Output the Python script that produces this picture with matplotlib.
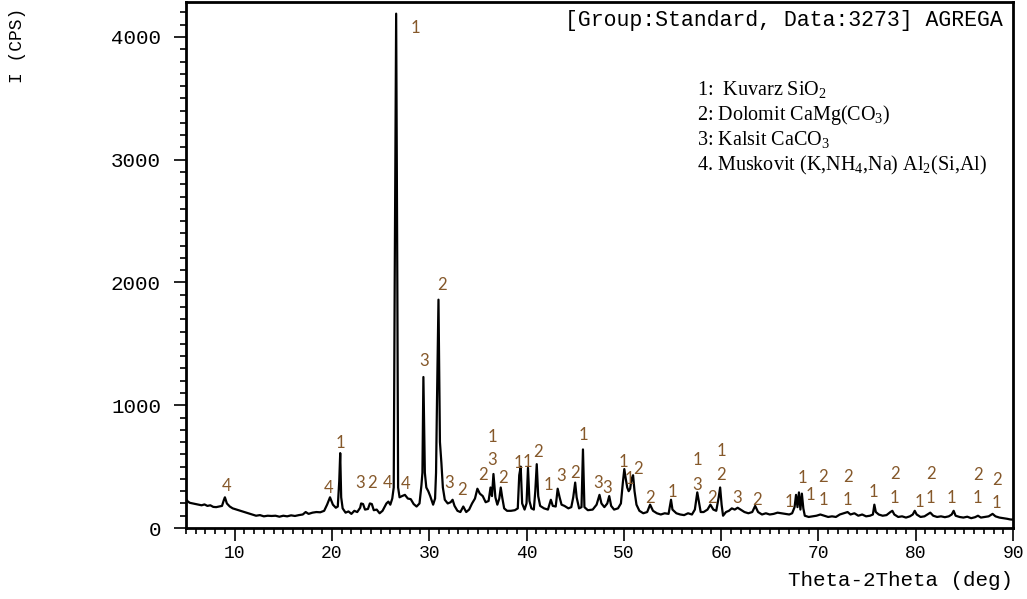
import matplotlib
matplotlib.use("Agg")
import matplotlib.pyplot as plt
from matplotlib.ticker import MultipleLocator

# -------- data --------
two_theta = [
    5.0, 5.2, 5.4, 5.7, 6.0, 6.3, 6.6, 6.9, 7.2, 7.5, 7.8, 8.1, 8.4, 8.7, 8.9, 9.0, 9.2, 9.5, 9.8,
    10.2, 10.6, 11.0, 11.4, 11.8, 12.2, 12.6, 13.0, 13.4, 13.8, 14.2, 14.6, 15.0, 15.4, 15.8,
    16.2, 16.6, 17.0, 17.3, 17.6, 18.0, 18.4, 18.8, 19.2, 19.5, 19.8, 20.1, 20.4, 20.6, 20.75,
    20.85, 20.95, 21.1, 21.4, 21.7, 22.0, 22.3, 22.6, 22.9, 23.0, 23.2, 23.4, 23.7, 23.9, 24.1,
    24.3, 24.6, 24.9, 25.2, 25.4, 25.6, 25.8, 26.0, 26.2, 26.35, 26.45, 26.6, 26.72, 26.8, 26.95,
    27.2, 27.5, 27.8, 28.1, 28.4, 28.7, 29.0, 29.2, 29.3, 29.4, 29.55, 29.7, 29.9, 30.1, 30.4,
    30.6, 30.7, 30.8, 30.95, 31.1, 31.25, 31.4, 31.6, 31.9, 32.2, 32.4, 32.6, 32.9, 33.2, 33.5,
    33.8, 34.1, 34.4, 34.7, 34.95, 35.2, 35.5, 35.8, 36.1, 36.3, 36.45, 36.6, 36.8, 37.0, 37.2,
    37.35, 37.5, 37.7, 38.0, 38.4, 38.8, 39.1, 39.25, 39.4, 39.55, 39.8, 40.0, 40.15, 40.3, 40.5,
    40.75, 40.9, 41.05, 41.2, 41.4, 41.8, 42.2, 42.5, 42.7, 43.0, 43.2, 43.4, 43.6, 43.9, 44.3,
    44.6, 44.8, 45.0, 45.15, 45.4, 45.65, 45.8, 45.95, 46.3, 46.8, 47.2, 47.5, 47.7, 48.0, 48.3,
    48.5, 48.7, 49.0, 49.4, 49.7, 49.9, 50.05, 50.2, 50.35, 50.5, 50.65, 50.8, 50.95, 51.1, 51.3,
    51.6, 52.0, 52.4, 52.7, 53.0, 53.4, 53.8, 54.2, 54.6, 54.85, 55.0, 55.4, 55.8, 56.2, 56.6,
    57.0, 57.3, 57.55, 57.75, 57.9, 58.2, 58.6, 58.9, 59.2, 59.5, 59.75, 59.9, 60.05, 60.2, 60.5,
    60.8, 61.1, 61.4, 61.7, 62.0, 62.4, 62.8, 63.2, 63.5, 63.8, 64.2, 64.6, 65.0, 65.4, 65.8,
    66.2, 66.6, 67.0, 67.3, 67.55, 67.7, 67.85, 68.0, 68.15, 68.3, 68.45, 68.6, 69.0, 69.4, 69.8,
    70.2, 70.6, 71.0, 71.4, 71.8, 72.2, 72.6, 73.0, 73.3, 73.7, 74.1, 74.5, 74.9, 75.3, 75.6,
    75.75, 75.9, 76.2, 76.6, 77.0, 77.4, 77.6, 77.8, 78.2, 78.6, 79.0, 79.4, 79.7, 79.9, 80.1,
    80.5, 80.9, 81.2, 81.5, 81.8, 82.2, 82.6, 83.0, 83.4, 83.7, 83.9, 84.1, 84.5, 84.9, 85.3,
    85.7, 86.1, 86.4, 86.7, 87.1, 87.5, 87.9, 88.2, 88.6, 89.0, 89.4, 89.7, 90.0,
]
intensity = [
    235, 215, 205, 200, 195, 190, 185, 192, 180, 185, 172, 170, 175, 180, 230, 250, 200, 175, 160,
    150, 140, 130, 120, 110, 100, 105, 95, 100, 98, 100, 92, 100, 95, 103,
    98, 105, 110, 130, 115, 125, 130, 128, 140, 190, 250, 190, 165, 175, 380,
    610, 250, 160, 125, 135, 115, 140, 130, 165, 200, 195, 150, 155, 200, 195,
    145, 150, 120, 140, 170, 200, 215, 190, 240, 330, 2000, 4190, 2000, 330, 250,
    260, 270, 240, 235, 195, 175, 200, 350, 450, 1230, 450, 330, 300, 260, 190,
    240, 450, 1050, 1860, 700, 530, 330, 230, 200, 210, 230, 180, 140, 130, 175,
    130, 150, 200, 240, 320, 280, 260, 210, 220, 330, 260, 440, 250, 190, 240,
    330, 250, 160, 140, 140, 145, 160, 430, 500, 200, 150, 200, 490, 220, 160,
    150, 300, 520, 260, 180, 160, 150, 230, 180, 175, 320, 250, 190, 180, 160,
    170, 250, 370, 250, 160, 170, 640, 170, 145, 150, 190, 270, 200, 170, 200,
    260, 180, 150, 160, 200, 370, 480, 400, 330, 300, 320, 400, 430, 300, 190,
    140, 120, 130, 190, 140, 120, 110, 120, 115, 230, 150, 120, 110, 105, 120,
    110, 150, 290, 200, 130, 130, 150, 190, 150, 140, 250, 330, 190, 100, 130,
    140, 160, 150, 165, 150, 130, 120, 130, 180, 130, 110, 120, 110, 115, 125,
    120, 115, 110, 120, 170, 270, 170, 290, 150, 280, 160, 100, 90, 95, 100,
    110, 100, 90, 95, 90, 110, 120, 130, 110, 120, 100, 110, 95, 100, 110,
    190, 130, 110, 100, 105, 130, 140, 110, 90, 95, 85, 95, 110, 140, 110,
    90, 95, 110, 125, 100, 90, 95, 88, 95, 110, 140, 100, 90, 85, 92,
    80, 88, 100, 85, 90, 95, 115, 95, 85, 80, 75, 70, 68,
]

# phase labels above the peaks: text, 2theta, height
peak_text = ["4", "1", "1", "2", "3", "4", "3", "2", "4", "4", "3", "2", "2", "1", "3", "2",
             "1", "1", "2", "1", "3", "2", "1", "3", "3", "1", "1", "2", "2", "1", "1", "3",
             "2", "1", "2", "3", "2", "1", "1", "1", "2", "1", "2", "1", "1", "2", "1", "1",
             "2", "1", "1", "2", "1", "2", "1"]
peak_x = [9.18, 28.58, 20.88, 31.36, 29.51, 19.65, 22.94, 24.07, 25.71, 27.56, 32.08, 33.41,
          35.56, 36.49, 36.49, 37.62, 39.16, 40.08, 41.21, 42.24, 43.57, 45.01, 45.83, 47.37,
          48.30, 49.94, 50.55, 51.45, 52.72, 54.98, 57.54, 57.54, 59.08, 60.0, 60.0, 61.65,
          63.70, 66.97, 68.31, 69.13, 70.47, 70.47, 73.03, 73.03, 75.70, 77.86, 77.86, 80.33,
          81.56, 81.56, 83.72, 86.39, 86.39, 88.34, 88.34]
peak_y = [342, 4072, 692, 1979, 1360, 326, 366, 366, 366, 358, 366, 309,
          432, 741, 554, 407, 529, 537, 619, 350, 423, 448, 757, 366,
          326, 537, 400, 480, 244, 293, 554, 350, 244, 627, 432, 244,
          228, 212, 407, 269, 415, 228, 415, 228, 293, 440, 244, 212,
          440, 244, 244, 432, 244, 391, 204]

legend_lines = [
    r"1:  Kuvarz SiO$_\mathrm{2}$",
    r"2: Dolomit CaMg(CO$_\mathrm{3}$)",
    r"3: Kalsit CaCO$_\mathrm{3}$",
    r"4. Muskovit (K,NH$_\mathrm{4}$,Na) Al$_\mathrm{2}$(Si,Al)",
]

plt.rcParams["mathtext.fontset"] = "custom"
plt.rcParams["mathtext.rm"] = "Liberation Serif"

mono = "Liberation Mono"

fig = plt.figure(figsize=(10.27, 5.99), dpi=100)
ax = fig.add_axes([186 / 1027, 71 / 599, 827 / 1027, 526 / 599])

ax.plot(two_theta, intensity, color="black", lw=1.6)

for t, x, y in zip(peak_text, peak_x, peak_y):
    ax.text(x, y, t, ha="center", va="center", fontsize=12, family="Lato", color="#85582a")

# legend block in the upper right, placed in figure pixels
for i, line in enumerate(legend_lines):
    fig.text(697 / 1027, 1 - (90 + 25 * i) / 599, line, fontsize=14.5,
             family="Liberation Serif", va="center", ha="left")

ax.set_xlim(5, 90)
ax.set_ylim(0, 4285)
ax.xaxis.set_major_locator(MultipleLocator(10))
ax.xaxis.set_minor_locator(MultipleLocator(1))
ax.yaxis.set_major_locator(MultipleLocator(1000))
ax.yaxis.set_minor_locator(MultipleLocator(100))

ax.tick_params(which="both", direction="out", width=1.2)
ax.tick_params(which="major", length=9)
ax.tick_params(which="minor", length=4)
ax.tick_params(axis="y", pad=9, labelsize=15)
ax.tick_params(axis="x", pad=3, labelsize=13)
for lab in ax.get_xticklabels() + ax.get_yticklabels():
    lab.set_family(mono)

for s in ax.spines.values():
    s.set_linewidth(2)

ax.text(0.988, 0.985, "[Group:Standard, Data:3273] AGREGA", transform=ax.transAxes,
        ha="right", va="top", family=mono, fontsize=15.5)
fig.text(1013 / 1027, 1 - 581 / 599, "Theta-2Theta (deg)", ha="right", va="center",
         family=mono, fontsize=15)
fig.text(18 / 1027, 1 - 45 / 599, "I (CPS)", rotation=90, ha="center", va="center",
         family=mono, fontsize=13)

fig.savefig("out.png", dpi=100)
